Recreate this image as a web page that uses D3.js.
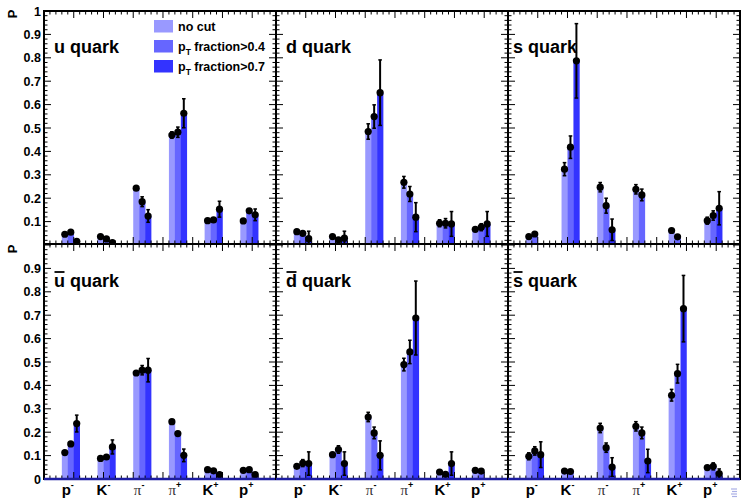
<!DOCTYPE html>
<html>
<head>
<meta charset="utf-8">
<script src="https://cdn.jsdelivr.net/npm/d3@7"></script>
<style>
	body { margin: 0; background: #fff; }
	text { font-family: "Liberation Sans", Arial, sans-serif; }
</style>
</head>
<body>
<div id="chart"></div>
<script>
// hadron categories (base symbol + charge superscript)
const cat_base = ["p", "K", "\u03c0", "\u03c0", "K", "p"];
const cat_sup = ["-", "-", "-", "+", "+", "+"];
const series_names = ["no cut", "fraction>0.4", "fraction>0.7"];
const y_ticks = [0, 0.1, 0.2, 0.3, 0.4, 0.5, 0.6, 0.7, 0.8, 0.9, 1];

// u quark
const u_nocut = [0.046, 0.036, 0.243, 0.470, 0.104, 0.103];
const u_nocut_err = [0.004, 0.004, 0.006, 0.014, 0.005, 0.005];
const u_pt04 = [0.055, 0.026, 0.185, 0.482, 0.107, 0.146];
const u_pt04_err = [0.005, 0.005, 0.021, 0.022, 0.006, 0.008];
const u_pt07 = [0.016, 0.010, 0.124, 0.563, 0.153, 0.129];
const u_pt07_err = [0.006, 0.006, 0.027, 0.062, 0.034, 0.025];

// d quark
const d_nocut = [0.057, 0.036, 0.485, 0.268, 0.093, 0.067];
const d_nocut_err = [0.005, 0.005, 0.033, 0.025, 0.015, 0.006];
const d_pt04 = [0.050, 0.022, 0.549, 0.218, 0.093, 0.076];
const d_pt04_err = [0.012, 0.006, 0.050, 0.032, 0.020, 0.015];
const d_pt07 = [0.027, 0.029, 0.651, 0.119, 0.090, 0.090];
const d_pt07_err = [0.032, 0.030, 0.140, 0.062, 0.053, 0.053];

// s quark
const s_nocut = [0.036, 0.324, 0.247, 0.238, 0.062, 0.104];
const s_nocut_err = [0.005, 0.028, 0.020, 0.020, 0.005, 0.015];
const s_pt04 = [0.047, 0.418, 0.168, 0.214, 0.035, 0.126];
const s_pt04_err = [0.010, 0.048, 0.032, 0.025, 0.005, 0.020];
const s_pt07 = [null, 0.787, 0.065, null, null, 0.157];
const s_pt07_err = [0, 0.159, 0.046, 0, 0, 0.071];

// anti-u quark
const ubar_nocut = [0.113, 0.088, 0.453, 0.245, 0.040, 0.037];
const ubar_nocut_err = [0.005, 0.005, 0.012, 0.006, 0.004, 0.004];
const ubar_pt04 = [0.150, 0.094, 0.465, 0.194, 0.035, 0.040];
const ubar_pt04_err = [0.006, 0.006, 0.020, 0.008, 0.004, 0.004];
const ubar_pt07 = [0.237, 0.137, 0.465, 0.101, 0.019, 0.019];
const ubar_pt07_err = [0.036, 0.030, 0.050, 0.027, 0.004, 0.004];

// anti-d quark
const dbar_nocut = [0.054, 0.104, 0.265, 0.489, 0.030, 0.037];
const dbar_nocut_err = [0.004, 0.012, 0.020, 0.027, 0.004, 0.004];
const dbar_pt04 = [0.068, 0.126, 0.197, 0.543, 0.020, 0.034];
const dbar_pt04_err = [0.015, 0.016, 0.025, 0.050, 0.004, 0.004];
const dbar_pt07 = [0.066, 0.066, 0.101, 0.688, 0.066, null];
const dbar_pt07_err = [0.050, 0.050, 0.062, 0.158, 0.050, 0];

// anti-s quark
const sbar_nocut = [0.097, 0.034, 0.218, 0.225, 0.358, 0.049];
const sbar_nocut_err = [0.015, 0.004, 0.020, 0.020, 0.025, 0.005];
const sbar_pt04 = [0.120, 0.032, 0.134, 0.197, 0.450, 0.054];
const sbar_pt04_err = [0.018, 0.004, 0.020, 0.025, 0.040, 0.015];
const sbar_pt07 = [0.104, null, 0.051, 0.077, 0.728, 0.023];
const sbar_pt07_err = [0.055, 0, 0.040, 0.050, 0.142, 0.020];

const colors = ["#9999ff", "#6666ff", "#3333ff"];

const panels = [
	{ row: 0, col: 0, q: "u", bar: false, vals: [u_nocut, u_pt04, u_pt07], errs: [u_nocut_err, u_pt04_err, u_pt07_err] },
	{ row: 0, col: 1, q: "d", bar: false, vals: [d_nocut, d_pt04, d_pt07], errs: [d_nocut_err, d_pt04_err, d_pt07_err] },
	{ row: 0, col: 2, q: "s", bar: false, vals: [s_nocut, s_pt04, s_pt07], errs: [s_nocut_err, s_pt04_err, s_pt07_err] },
	{ row: 1, col: 0, q: "u", bar: true, vals: [ubar_nocut, ubar_pt04, ubar_pt07], errs: [ubar_nocut_err, ubar_pt04_err, ubar_pt07_err] },
	{ row: 1, col: 1, q: "d", bar: true, vals: [dbar_nocut, dbar_pt04, dbar_pt07], errs: [dbar_nocut_err, dbar_pt04_err, dbar_pt07_err] },
	{ row: 1, col: 2, q: "s", bar: true, vals: [sbar_nocut, sbar_pt04, sbar_pt07], errs: [sbar_nocut_err, sbar_pt04_err, sbar_pt07_err] }
];

const width = 753, height = 500;
const left = 44, panel_w = 232;
const row_top = [11, 244];     // frame top of each row
const row_bottom = [244, 479]; // frame bottom of each row
const row_zero = [245, 479];   // pixel of P = 0
const unit = 234;              // pixels per unit of P

let svg = d3.select("#chart").append("svg")
	.attr("width", width)
	.attr("height", height);

panels.forEach(function(p, pi) {
	const x0 = left + p.col * panel_w;
	const x = d3.scaleLinear().domain([0, 6.5]).range([x0, x0 + panel_w]);
	const xt = d3.scaleLinear().domain([0, 7.8]).range([x0, x0 + panel_w]);
	const y = d3.scaleLinear().domain([0, 1]).range([row_zero[p.row], row_zero[p.row] - unit]);
	const top = row_top[p.row], bot = row_bottom[p.row];

	let g = svg.append("g");
	g.append("clipPath").attr("id", "clip" + pi)
		.append("rect")
		.attr("x", x0).attr("y", top)
		.attr("width", panel_w).attr("height", bot - top);

	let plot = g.append("g").attr("clip-path", "url(#clip" + pi + ")");

	// bars
	p.vals.forEach(function(vals, j) {
		plot.selectAll(".bar" + j)
			.data(vals.map((v, i) => ({ v: v, i: i })).filter(d => d.v !== null))
			.enter().append("rect")
			.attr("x", d => x(d.i + 0.5 + j / 6))
			.attr("width", x(1 / 6) - x(0) + 0.3)
			.attr("y", d => y(d.v))
			.attr("height", d => y(0) - y(d.v))
			.attr("fill", colors[j]);
	});

	// error bars and markers
	p.vals.forEach(function(vals, j) {
		const pts = vals.map((v, i) => ({ v: v, e: p.errs[j][i], i: i })).filter(d => d.v !== null);
		const cx = d => x(d.i + 0.5 + (j + 0.5) / 6);
		plot.selectAll(".err" + j)
			.data(pts).enter().append("line")
			.attr("x1", cx).attr("x2", cx)
			.attr("y1", d => y(d.v - d.e)).attr("y2", d => y(d.v + d.e))
			.attr("stroke", "#000").attr("stroke-width", 2);
		[-1, 1].forEach(function(s) {
			plot.selectAll(".cap" + j + s)
				.data(pts.filter(d => d.e > 0.012)).enter().append("line")
				.attr("x1", d => cx(d) - 1.8).attr("x2", d => cx(d) + 1.8)
				.attr("y1", d => y(d.v + s * d.e)).attr("y2", d => y(d.v + s * d.e))
				.attr("stroke", "#000").attr("stroke-width", 1.5);
		});
		plot.selectAll(".dot" + j)
			.data(pts).enter().append("circle")
			.attr("cx", cx).attr("cy", d => y(d.v))
			.attr("r", 3.6).attr("fill", "#000");
	});

	// ticks on all four sides, pointing inward
	let ticks = g.append("g").attr("stroke", "#000").attr("stroke-width", 1);
	d3.range(0, 1.0001, 0.02).forEach(function(v, k) {
		const yy = y(v);
		if (yy < top - 0.5 || yy > bot + 0.5) return;
		const len = (k % 5 === 0) ? 7 : 3.5;
		ticks.append("line").attr("x1", x0).attr("x2", x0 + len).attr("y1", yy).attr("y2", yy);
		ticks.append("line").attr("x1", x0 + panel_w).attr("x2", x0 + panel_w - len).attr("y1", yy).attr("y2", yy);
	});
	d3.range(0, 7.8001, 0.2).forEach(function(v, k) {
		const xx = xt(v);
		const len = (k % 5 === 0) ? 7 : 3.5;
		ticks.append("line").attr("x1", xx).attr("x2", xx).attr("y1", top).attr("y2", top + len);
		ticks.append("line").attr("x1", xx).attr("x2", xx).attr("y1", bot).attr("y2", bot - len);
	});

	// frame
	g.append("rect")
		.attr("x", x0).attr("y", top)
		.attr("width", panel_w).attr("height", bot - top)
		.attr("fill", "none").attr("stroke", "#000").attr("stroke-width", 2);

	if (p.row === 1) {
		g.append("line")
			.attr("x1", x0).attr("x2", x0 + panel_w)
			.attr("y1", bot).attr("y2", bot)
			.attr("stroke", "#1c1ca0").attr("stroke-width", 2.5);
	}

	// y tick labels on the left column
	if (p.col === 0) {
		g.selectAll(".ylab")
			.data(y_ticks.filter(v => p.row === 0 ? v > 0 : v < 1))
			.enter().append("text")
			.attr("x", 41)
			.attr("y", d => y(d) + 4.5)
			.attr("text-anchor", "end")
			.attr("font-size", 12.5)
			.attr("font-weight", "bold")
			.text(d => d === 1 ? "1" : d === 0 ? "0" : d.toFixed(1));

		g.append("text")
			.attr("transform", "translate(17," + (p.row === 0 ? 14 : 249) + ") rotate(-90)")
			.attr("text-anchor", "middle")
			.attr("font-size", 13)
			.attr("font-weight", "bold")
			.text("P");
	}

	// category labels below the bottom row
	if (p.row === 1) {
		cat_base.forEach(function(b, i) {
			let t = g.append("text")
				.attr("x", x(i + 0.75) - 3)
				.attr("y", 495)
				.attr("text-anchor", "middle")
				.attr("font-size", 15);
			let tb = t.append("tspan").text(b);
			if (b === "\u03c0") {
				tb.attr("font-family", "'Liberation Serif', 'DejaVu Serif', serif")
					.attr("font-weight", "normal").attr("fill", "#333");
			} else {
				tb.attr("font-weight", "bold");
			}
			t.append("tspan")
				.attr("dy", -7)
				.attr("font-size", 9)
				.attr("font-weight", "bold")
				.text(cat_sup[i]);
		});
	}

	// quark label
	const lx = p.col === 2 ? x0 + 5 : x0 + 10;
	const ly = p.row === 0 ? 53 : 287;
	let ql = g.append("text")
		.attr("x", lx).attr("y", ly)
		.attr("font-size", 18)
		.attr("font-weight", "bold");
	let first = ql.append("tspan").text(p.q);
	ql.append("tspan").text(" quark");
	if (p.bar) {
		const w = ql.node().getSubStringLength(0, 1);
		g.append("line")
			.attr("x1", lx + 0.5).attr("x2", lx + w - 0.5)
			.attr("y1", ly - 15).attr("y2", ly - 15)
			.attr("stroke", "#000").attr("stroke-width", 1.8);
	}
});

// legend inside the u quark panel
let legend = svg.append("g");
series_names.forEach(function(name, j) {
	const ly = [20, 40, 60][j];
	legend.append("rect")
		.attr("x", 154).attr("y", ly)
		.attr("width", 19).attr("height", 12.5)
		.attr("fill", colors[j]);
	let t = legend.append("text")
		.attr("x", 178).attr("y", ly + 11)
		.attr("font-size", 12.5)
		.attr("font-weight", "bold");
	if (j === 0) {
		t.text(name);
	} else {
		t.append("tspan").text("p");
		t.append("tspan").attr("dy", 4).attr("font-size", 8.5).text("T");
		t.append("tspan").attr("dy", -4).text(" " + name);
	}
});

// navigation symbol in the bottom right corner
let nav = svg.append("g").attr("stroke", "#aab0e6").attr("stroke-width", 1.2);
[[731, 737, 489], [732, 737, 491.5], [731, 737, 494], [732, 737, 496.5]].forEach(function(s) {
	nav.append("line").attr("x1", s[0]).attr("x2", s[1]).attr("y1", s[2]).attr("y2", s[2]);
});
</script>
</body>
</html>
